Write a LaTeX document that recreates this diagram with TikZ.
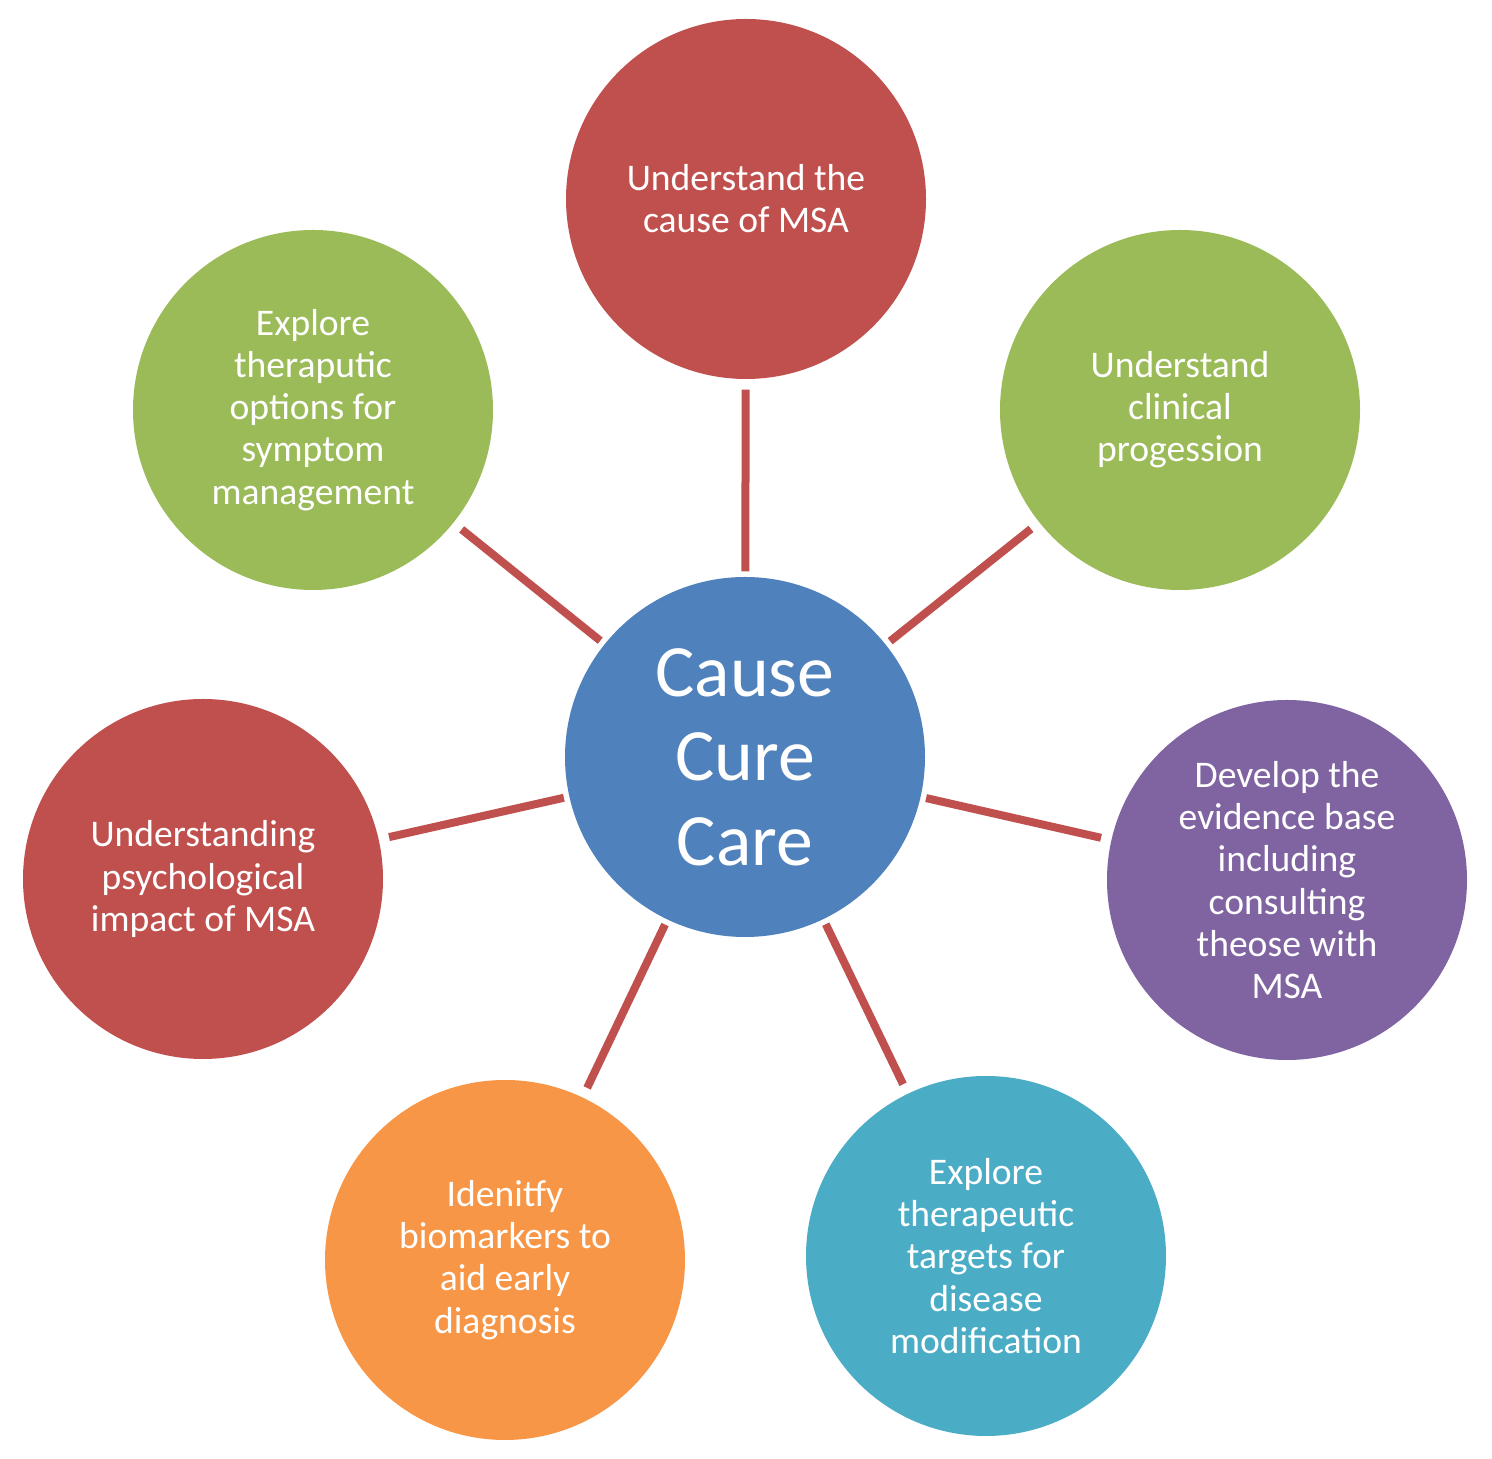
\documentclass[tikz,border=0pt]{standalone}
\usepackage{fontspec}
\setmainfont{Carlito}
\definecolor{msared}{HTML}{C0504D}
\definecolor{msagreen}{HTML}{9BBB59}
\definecolor{msapurple}{HTML}{8064A2}
\definecolor{msaaqua}{HTML}{4BACC6}
\definecolor{msaorange}{HTML}{F79646}
\definecolor{msablue}{HTML}{4F81BD}
\begin{document}
\begin{tikzpicture}[
                    font=\fontsize{10.7}{12}\selectfont,
                    bubble/.style={circle, minimum size=3.6cm, inner sep=0pt, text=white, align=center},
                    hub/.style={bubble, fill=msablue, font=\fontsize{21}{24}\selectfont},
                    spoke/.style={line width=0.08cm, msared, shorten <=0.05cm, shorten >=0.1cm}
                ]
                \useasboundingbox (0,0) rectangle (14.92,-14.59);

                % centre
                \node[hub] (hub) at (7.45,-7.57) {Cause\\Cure\\Care};

                % outer circles
                \node[bubble, fill=msared] (cause) at (7.46,-1.99) {Understand the\\cause of MSA};
                \node[bubble, fill=msagreen] (progress) at (11.80,-4.10) {Understand\\clinical\\progession};
                \node[bubble, fill=msapurple] (evidence) at (12.87,-8.80) {Develop the\\evidence base\\including\\consulting\\theose with\\MSA};
                \node[bubble, fill=msaaqua] (targets) at (9.86,-12.56) {Explore\\therapeutic\\targets for\\disease\\modification};
                \node[bubble, fill=msaorange] (markers) at (5.05,-12.60) {Idenitfy\\biomarkers to\\aid early\\diagnosis};
                \node[bubble, fill=msared] (impact) at (2.03,-8.79) {Understanding\\psychological\\impact of MSA};
                \node[bubble, fill=msagreen] (symptom) at (3.13,-4.10) {Explore\\theraputic\\options for\\symptom\\management};

                % spokes
                \foreach \n in {cause, progress, evidence, targets, markers, impact, symptom}
                    \draw[spoke] (hub) -- (\n);

            \end{tikzpicture}
\end{document}
